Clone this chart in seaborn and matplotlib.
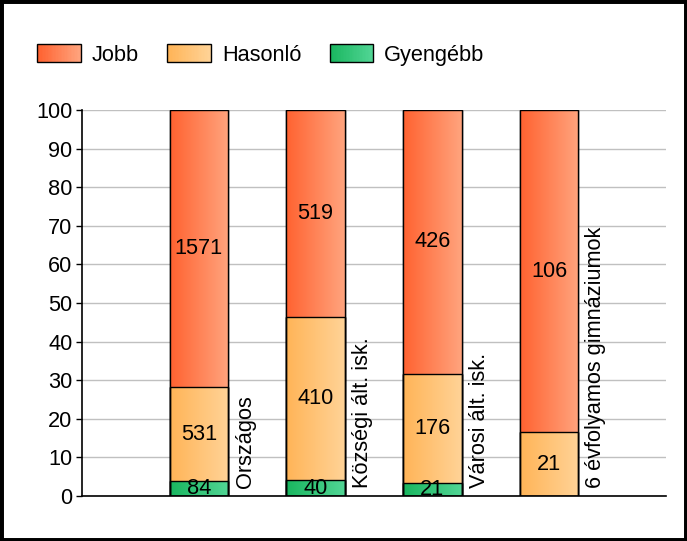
import matplotlib
matplotlib.use("Agg")
import matplotlib.pyplot as plt
import numpy as np
import pandas as pd
import seaborn as sns
from matplotlib.colors import LinearSegmentedColormap
from matplotlib.legend_handler import HandlerBase
from matplotlib.patches import Patch, Rectangle

# data
categories = ["Országos", "Községi ált. isk.", "Városi ált. isk.", "6 évfolyamos gimnáziumok"]
jobb = [1571, 519, 426, 106]
hasonlo = [531, 410, 176, 21]
gyengebb = [84, 40, 21, 0]
series_names = ["Jobb", "Hasonló", "Gyengébb"]
yticks = list(range(0, 101, 10))

# gradient colours (left -> right)
GRADS = {
    "Jobb": ("#FF6230", "#FFA47E"),
    "Hasonló": ("#FFB457", "#FFD397"),
    "Gyengébb": ("#19B65F", "#52D595"),
}
FONT = 15.7

counts = np.array([jobb, hasonlo, gyengebb], dtype=float)
totals = counts.sum(axis=0)
pct = counts / totals * 100.0
# stack order from the bottom: Gyengébb, Hasonló, Jobb
tops = {"Gyengébb": pct[2], "Hasonló": pct[2] + pct[1], "Jobb": pct[2] + pct[1] + pct[0]}
bottoms = {"Gyengébb": np.zeros(len(categories)), "Hasonló": pct[2], "Jobb": pct[2] + pct[1]}


class GradientHandler(HandlerBase):
    def __init__(self, c0, c1):
        super().__init__()
        self.cmap = LinearSegmentedColormap.from_list("g", [c0, c1])

    def create_artists(self, legend, orig_handle, xdescent, ydescent, width, height, fontsize, trans):
        n = 30
        arts = []
        for k in range(n):
            arts.append(Rectangle((-xdescent + width * k / n, -ydescent), width / n * 1.05, height,
                                  facecolor=self.cmap(k / (n - 1)), edgecolor="none", transform=trans))
        arts.append(Rectangle((-xdescent, -ydescent), width, height, facecolor="none",
                              edgecolor="black", lw=1.0, transform=trans))
        return arts


sns.set_theme(style="white")
plt.rcParams["font.family"] = ["Liberation Sans", "DejaVu Sans"]
plt.rcParams["text.color"] = "black"
plt.rcParams["ytick.color"] = "black"
plt.rcParams["ytick.labelcolor"] = "black"

fig = plt.figure(figsize=(6.87, 5.41), dpi=100)
ax = fig.add_axes([0.1194, 0.0832, 0.85, 0.7135])

# draw back to front: full stack, then lower parts over it
for name in ["Jobb", "Hasonló", "Gyengébb"]:
    df = pd.DataFrame({"cat": categories, "val": tops[name]})
    n_before = len(ax.patches)
    sns.barplot(data=df, x="cat", y="val", order=categories, width=0.5,
                color=GRADS[name][0], edgecolor="black", linewidth=1.0,
                saturation=1, ax=ax, zorder=2)
    cmap = LinearSegmentedColormap.from_list(name, GRADS[name])
    grad = np.linspace(0, 1, 256).reshape(1, -1)
    for p in ax.patches[n_before:]:
        x0, y0 = p.get_x(), p.get_y()
        w, h = p.get_width(), p.get_height()
        if h <= 0:
            continue
        im = ax.imshow(grad, cmap=cmap, extent=[x0, x0 + w, y0, y0 + h],
                       aspect="auto", zorder=2.1, interpolation="bilinear")
        im.set_clip_path(p)
        # border drawn on top of gradient
        ax.add_patch(Rectangle((x0, y0), w, h, facecolor="none", edgecolor="black",
                               lw=1.0, zorder=2.2))

# value labels
for i in range(len(categories)):
    for name, vals in zip(series_names, counts):
        v = vals[i]
        if v <= 0:
            continue
        yc = (bottoms[name][i] + tops[name][i]) / 2
        ax.text(i, yc, f"{int(v)}", ha="center", va="center", fontsize=FONT,
                color="black", zorder=5)
    ax.text(i + 0.40, 2.0, categories[i], rotation=90, ha="center", va="bottom",
            fontsize=FONT, color="black", zorder=5)

ax.set_xlim(-1, 4)
ax.set_ylim(0, 100)
ax.set_yticks(yticks)
ax.set_yticklabels([str(t) for t in yticks], fontsize=FONT)
ax.set_xticks([])
ax.set_xlabel("")
ax.set_ylabel("")
ax.yaxis.grid(True, color="#C0C0C0", lw=1.0, zorder=0)
ax.set_axisbelow(True)
ax.tick_params(axis="y", left=True, length=4, width=1, color="black", pad=3)
for s in ["top", "right"]:
    ax.spines[s].set_visible(False)
for s in ["left", "bottom"]:
    ax.spines[s].set_color("black")
    ax.spines[s].set_linewidth(1.2)

handles = [Patch(label=n) for n in series_names]
hmap = {h: GradientHandler(*GRADS[n]) for h, n in zip(handles, series_names)}
fig.legend(handles=handles, labels=series_names, handler_map=hmap, ncol=3,
           loc="upper left", bbox_to_anchor=(0.026, 0.955), frameon=False,
           fontsize=FONT, handlelength=2.0, handleheight=0.9, handletextpad=0.5,
           columnspacing=1.3)

fig.add_artist(Rectangle((0, 0), 1, 1, transform=fig.transFigure, fill=False,
                         edgecolor="black", lw=5))

fig.savefig("out.png", dpi=100)
